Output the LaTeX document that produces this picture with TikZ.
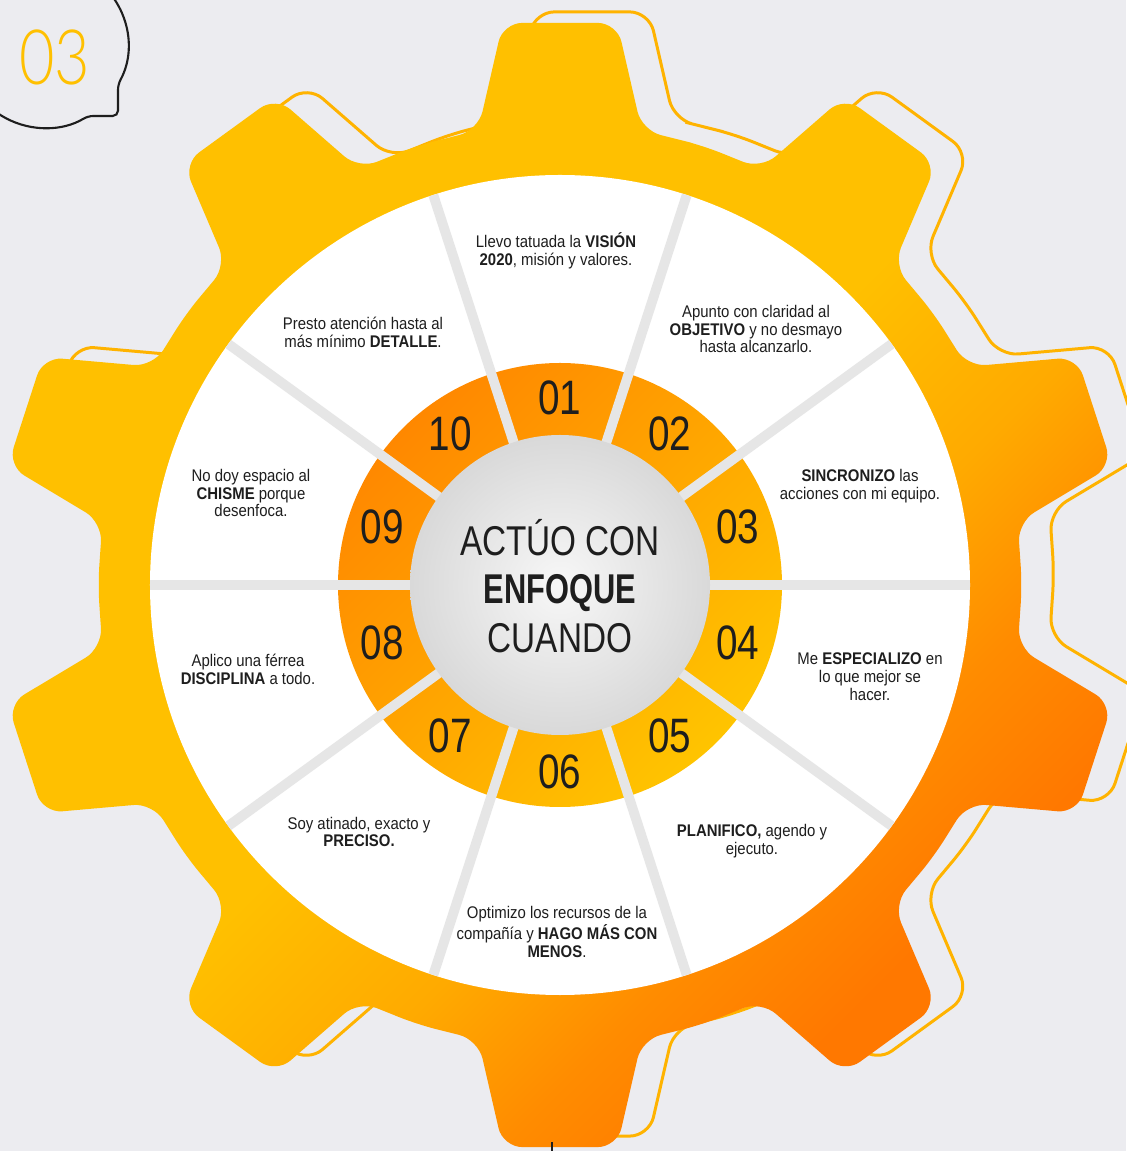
\documentclass[tikz,border=0pt]{standalone}
\usepackage{fontspec}
\setmainfont{Liberation Sans}[FakeStretch=0.885]
\newfontfamily\condfont{Liberation Sans}[FakeStretch=0.8,BoldFeatures={FakeStretch=0.74}]
\newfontfamily\thinfont{Lato Light}[FakeStretch=0.8]
\usepackage{tikz}
\definecolor{paper}{HTML}{ECECF0}
\definecolor{gold}{HTML}{FFC000}
\definecolor{tangerine}{HTML}{FFAA00}
\definecolor{orange}{HTML}{FF8C00}
\definecolor{amber}{HTML}{FF7800}
\definecolor{rim}{HTML}{FFB300}
\definecolor{ringorange}{HTML}{FF8800}
\definecolor{ringyellow}{HTML}{FFC400}
\definecolor{divider}{HTML}{E6E6E6}
\definecolor{ink}{HTML}{1E1E1E}
\pgfdeclareverticalshading{gearfade}{100bp}{color(0bp)=(amber); color(27bp)=(amber); color(34bp)=(orange); color(41bp)=(tangerine); color(50bp)=(gold); color(100bp)=(gold)}
\newcommand{\gearpath}{(75.9:460.9) \foreach \a in {90,126,...,414} {-- (\a-10.2:462) -- (\a-5.8:565) -- (\a+5.8:565) -- (\a+10.2:462) -- (\a+18:462)} -- cycle}

\begin{document}
\begin{tikzpicture}[x=0.02cm,y=0.02cm,
  bodytext/.style={font=\fontsize{9.6}{10.2}\selectfont,align=center,text=ink,inner sep=0pt},
  numtext/.style={font=\condfont\fontsize{27.5}{27.5}\selectfont,text=ink,inner sep=0pt},
  divline/.style={divider,line width=5.6pt}]
  \useasboundingbox (-560,-566) rectangle (566,585);
  \fill[paper] (-560,-566) rectangle (566,585);
  \draw[rim,line width=1.7pt,rounded corners=11pt,shift={(32,11)}] \gearpath;
  \shade[shading=gearfade,shading angle=45,rounded corners=11pt] \gearpath;
  \fill[white] (0,0) circle (410);
  \shade[top color=ringorange,bottom color=ringyellow,shading angle=45] (0,0) circle (222);
  \foreach \a in {0,36,...,324} \draw[divline] (\a:140) -- (\a:410);
  \shade[inner color=black!3,outer color=black!15] (0,0) circle (150);
  \foreach \n/\a in {01/90,02/54,03/18,04/-18,05/-54,06/-90,07/-126,08/-162,09/162,10/126}
    \node[numtext] (num\n) at (\a:187) {\n};
  \node[font=\condfont\fontsize{23.7}{27.5}\selectfont,align=center,text=ink,inner sep=0pt] (focus) at (0,-1) {ACTÚO CON\\\textbf{ENFOQUE}\\CUANDO};
  \node[bodytext] (t01) at (-4,334) {Llevo tatuada la \textbf{VISIÓN}\\\textbf{2020}, misión y valores.};
  \node[bodytext] (t02) at (196,256) {Apunto con claridad al\\\textbf{OBJETIVO} y no desmayo\\hasta alcanzarlo.};
  \node[bodytext] (t03) at (300,99) {\textbf{SINCRONIZO} las\\acciones con mi equipo.};
  \node[bodytext] (t04) at (310,-92) {Me \textbf{ESPECIALIZO} en\\lo que mejor se\\hacer.};
  \node[bodytext] (t05) at (192,-256) {\textbf{PLANIFICO,} agendo y\\ejecuto.};
  \node[bodytext] (t06) at (-3,-347) {Optimizo los recursos de la\\compañía y \textbf{HAGO MÁS CON}\\\textbf{MENOS}.};
  \node[bodytext] (t07) at (-201,-247) {Soy atinado, exacto y\\\textbf{PRECISO.}};
  \node[bodytext] (t08) at (-312,-84) {Aplico una férrea\\\textbf{DISCIPLINA} a todo.};
  \node[bodytext] (t09) at (-309,92) {No doy espacio al\\\textbf{CHISME} porque\\desenfoca.};
  \node[bodytext] (t10) at (-197,253) {Presto atención hasta al\\más mínimo \textbf{DETALLE}.};
  \draw[ink,line width=1.2pt,rounded corners=3pt] (-515,540) ++(-28.4:83) arc[start angle=-28.4,end angle=301.2,radius=83] -- (-442,469) -- cycle;
  \node[font=\thinfont\fontsize{43.5}{43.5}\selectfont,text=gold,inner sep=0pt] (badge) at (-505,528) {03};
  \draw[ink,line width=0.7pt] (-8,-557) -- (-8,-566);
\end{tikzpicture}
\end{document}
